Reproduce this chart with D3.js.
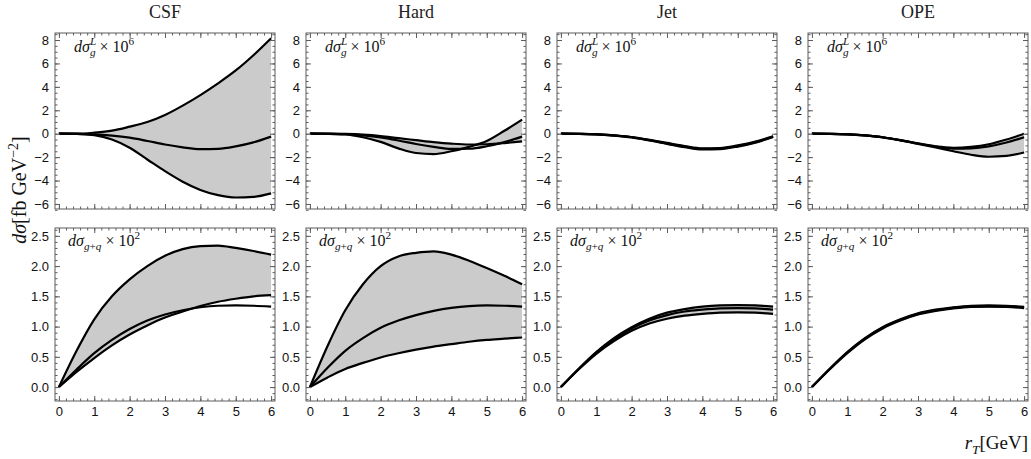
<!DOCTYPE html>
<html>
<head>
<meta charset="utf-8">
<script src="https://cdn.jsdelivr.net/npm/d3@7"></script>
<style>
  body { margin: 0; background: #fff; }
</style>
</head>
<body>
<svg id="chart"></svg>
<script>
// r_T grid the curves are read at
const rT = [0, 0.5, 1, 1.5, 2, 2.5, 3, 3.5, 4, 4.5, 5, 5.5, 6]

const columns = ["CSF", "Hard", "Jet", "OPE"]

// top row: dσ_g^L × 10^6  (band edges hi / lo, plus the central curve)
const csfL_hi = [0, 0, 0.09, 0.26, 0.6, 1.0, 1.6, 2.4, 3.3, 4.3, 5.4, 6.7, 8.15]
const csfL_mid = [0, -0.01, -0.05, -0.16, -0.34, -0.62, -0.92, -1.16, -1.32, -1.29, -1.08, -0.74, -0.25]
const csfL_lo = [0, -0.01, -0.12, -0.5, -1.2, -2.2, -3.2, -4.1, -4.8, -5.25, -5.45, -5.4, -5.1]

const hardL_hi = [0, 0, -0.02, -0.08, -0.2, -0.38, -0.55, -0.72, -0.85, -0.92, -0.9, -0.8, -0.65]
const hardL_mid = [0, -0.01, -0.04, -0.15, -0.32, -0.58, -0.88, -1.12, -1.3, -1.28, -1.07, -0.72, -0.25]
const hardL_lo = [0, -0.01, -0.06, -0.3, -0.7, -1.25, -1.65, -1.74, -1.5, -1.12, -0.62, 0.25, 1.2]

const jetL_hi = [0, -0.01, -0.04, -0.14, -0.28, -0.52, -0.79, -1.05, -1.24, -1.22, -1.0, -0.68, -0.22]
const jetL_mid = [0, -0.01, -0.05, -0.15, -0.3, -0.55, -0.83, -1.1, -1.3, -1.27, -1.05, -0.72, -0.25]
const jetL_lo = [0, -0.01, -0.05, -0.16, -0.32, -0.58, -0.87, -1.15, -1.35, -1.32, -1.1, -0.76, -0.28]

const opeL_hi = [0, -0.01, -0.04, -0.14, -0.3, -0.55, -0.83, -1.08, -1.2, -1.12, -0.9, -0.5, 0.0]
const opeL_mid = [0, -0.01, -0.05, -0.15, -0.3, -0.55, -0.84, -1.1, -1.28, -1.25, -1.08, -0.75, -0.3]
const opeL_lo = [0, -0.01, -0.05, -0.15, -0.31, -0.57, -0.87, -1.18, -1.5, -1.8, -1.97, -1.9, -1.6]

// bottom row: dσ_{g+q} × 10^2
const csfGQ_hi = [0, 0.6, 1.12, 1.5, 1.78, 2.0, 2.17, 2.28, 2.33, 2.34, 2.3, 2.25, 2.19]
const csfGQ_mid = [0, 0.29, 0.56, 0.78, 0.96, 1.1, 1.2, 1.27, 1.32, 1.345, 1.35, 1.345, 1.33]
const csfGQ_lo = [0, 0.25, 0.48, 0.69, 0.87, 1.02, 1.15, 1.25, 1.34, 1.41, 1.46, 1.5, 1.52]

const hardGQ_hi = [0, 0.68, 1.27, 1.7, 2.0, 2.16, 2.22, 2.245, 2.19, 2.09, 1.97, 1.84, 1.7]
const hardGQ_mid = [0, 0.32, 0.6, 0.81, 0.98, 1.1, 1.19, 1.26, 1.31, 1.34, 1.35, 1.345, 1.33]
const hardGQ_lo = [0, 0.16, 0.3, 0.4, 0.49, 0.56, 0.62, 0.67, 0.71, 0.75, 0.78, 0.8, 0.82]

const jetGQ_hi = [0, 0.3, 0.58, 0.81, 0.99, 1.13, 1.23, 1.29, 1.33, 1.35, 1.355, 1.35, 1.33]
const jetGQ_mid = [0, 0.3, 0.57, 0.79, 0.97, 1.1, 1.19, 1.25, 1.28, 1.3, 1.305, 1.3, 1.28]
const jetGQ_lo = [0, 0.29, 0.55, 0.76, 0.93, 1.05, 1.13, 1.18, 1.21, 1.23, 1.235, 1.23, 1.21]

const opeGQ_hi = [0, 0.3, 0.58, 0.81, 0.99, 1.12, 1.22, 1.28, 1.32, 1.345, 1.35, 1.345, 1.325]
const opeGQ_mid = [0, 0.3, 0.57, 0.8, 0.98, 1.11, 1.21, 1.27, 1.31, 1.335, 1.34, 1.335, 1.315]
const opeGQ_lo = [0, 0.29, 0.56, 0.79, 0.97, 1.1, 1.2, 1.26, 1.3, 1.325, 1.33, 1.325, 1.305]

// tick labels
const xTicks = [0, 1, 2, 3, 4, 5, 6]
const yTicksL = [-6, -4, -2, 0, 2, 4, 6, 8]
const yTicksGQ = [0, 0.5, 1, 1.5, 2, 2.5]

const topRow = [
  [csfL_hi, csfL_mid, csfL_lo],
  [hardL_hi, hardL_mid, hardL_lo],
  [jetL_hi, jetL_mid, jetL_lo],
  [opeL_hi, opeL_mid, opeL_lo]
]
const bottomRow = [
  [csfGQ_hi, csfGQ_mid, csfGQ_lo],
  [hardGQ_hi, hardGQ_mid, hardGQ_lo],
  [jetGQ_hi, jetGQ_mid, jetGQ_lo],
  [opeGQ_hi, opeGQ_mid, opeGQ_lo]
]

const SERIF = "'Liberation Serif', 'Times New Roman', serif"
const SANS = "'Liberation Sans', Arial, sans-serif"
const FRAME = "#5c5c5c"
const FILL = "#cbcbcb"

const svg = d3.select("#chart")
  .attr("width", 1031)
  .attr("height", 459)

const panelLeft = [55, 306, 557, 808]
const panelWidth = 220

const rows = [
  {
    data: topRow, top: 33, bottom: 209, domain: [-6.43, 8.6],
    major: yTicksL, minor: d3.range(-6.5, 8.51, 0.5), fmt: d3.format("d"),
    label: [{ t: "d", it: 1 }, { t: "σ", it: 1 }, { t: "L", pos: "sup", it: 1 }, { t: "g", pos: "sub", it: 1, back: 1 }, { t: " × 10" }, { t: "6", pos: "sup" }],
    labelPos: [74, 52], xLabels: false
  },
  {
    data: bottomRow, top: 228, bottom: 401, domain: [-0.23, 2.63],
    major: yTicksGQ, minor: d3.range(-0.2, 2.61, 0.1), fmt: d3.format(".1f"),
    label: [{ t: "d", it: 1 }, { t: "σ", it: 1 }, { t: "g", pos: "sub", it: 1 }, { t: "+", pos: "sub" }, { t: "q", pos: "sub", it: 1 }, { t: " × 10" }, { t: "2", pos: "sup" }],
    labelPos: [68, 246], xLabels: true
  }
]

const xMinor = d3.range(0, 6.01, 0.2)

rows.forEach((row, r) => {
  columns.forEach((name, c) => {
    const left = panelLeft[c]
    const x = d3.scaleLinear().domain([-0.11, 6.11]).range([left, left + panelWidth])
    const y = d3.scaleLinear().domain(row.domain).range([row.bottom, row.top])
    renderPanel(row, row.data[c], x, y, `clip-${r}-${c}`)
  })
})

function renderPanel(row, curves, x, y, clipId) {
  const [x0, x1] = x.range()
  const g = svg.append("g")

  g.append("clipPath").attr("id", clipId)
    .append("rect")
    .attr("x", x0).attr("y", row.top)
    .attr("width", x1 - x0).attr("height", row.bottom - row.top)

  const plot = g.append("g").attr("clip-path", `url(#${clipId})`)
  const [hi, mid, lo] = curves

  // band between the two scale variations
  plot.append("path")
    .datum(rT)
    .attr("fill", FILL)
    .attr("d", d3.area()
      .x(d => x(d))
      .y0((d, i) => y(lo[i]))
      .y1((d, i) => y(hi[i]))
      .curve(d3.curveMonotoneX))

  const line = vals => d3.line()
    .x(d => x(d))
    .y((d, i) => y(vals[i]))
    .curve(d3.curveMonotoneX)(rT)

  plot.selectAll(".curve")
    .data([hi, lo, mid])
    .join("path")
    .attr("fill", "none")
    .attr("stroke", "#000")
    .attr("stroke-width", 2.2)
    .attr("stroke-linejoin", "round")
    .attr("d", d => line(d))

  renderFrame(g, row, x, y)

  richText(g, row.labelPos[0] + (x0 - 55), row.labelPos[1], row.label, 16, "start")
}

function renderFrame(g, row, x, y) {
  const [x0, x1] = x.range()
  const styleAxis = sel => {
    sel.select(".domain").remove()
    sel.selectAll(".tick line").attr("stroke", FRAME)
    sel.selectAll(".tick text")
      .attr("font-family", SANS)
      .attr("font-size", 13)
      .attr("fill", "#111")
  }

  // left (labelled) and right
  g.append("g").attr("transform", `translate(${x0},0)`)
    .call(d3.axisLeft(y).tickValues(row.minor).tickSize(-2.5).tickFormat(""))
    .call(styleAxis)
  g.append("g").attr("transform", `translate(${x0},0)`)
    .call(d3.axisLeft(y).tickValues(row.major).tickSize(-5).tickPadding(6).tickFormat(row.fmt))
    .call(styleAxis)
  g.append("g").attr("transform", `translate(${x1},0)`)
    .call(d3.axisRight(y).tickValues(row.minor).tickSize(-2.5).tickFormat(""))
    .call(styleAxis)
  g.append("g").attr("transform", `translate(${x1},0)`)
    .call(d3.axisRight(y).tickValues(row.major).tickSize(-5).tickFormat(""))
    .call(styleAxis)

  // bottom and top
  g.append("g").attr("transform", `translate(0,${row.bottom})`)
    .call(d3.axisBottom(x).tickValues(xMinor).tickSize(-2.5).tickFormat(""))
    .call(styleAxis)
  g.append("g").attr("transform", `translate(0,${row.bottom})`)
    .call(d3.axisBottom(x).tickValues(xTicks).tickSize(-5).tickPadding(6)
      .tickFormat(row.xLabels ? d3.format("d") : ""))
    .call(styleAxis)
  g.append("g").attr("transform", `translate(0,${row.top})`)
    .call(d3.axisTop(x).tickValues(xMinor).tickSize(-2.5).tickFormat(""))
    .call(styleAxis)
  g.append("g").attr("transform", `translate(0,${row.top})`)
    .call(d3.axisTop(x).tickValues(xTicks).tickSize(-5).tickFormat(""))
    .call(styleAxis)

  g.append("rect")
    .attr("x", x0).attr("y", row.top)
    .attr("width", x1 - x0).attr("height", row.bottom - row.top)
    .attr("fill", "none")
    .attr("stroke", FRAME)
    .attr("stroke-width", 1)
}

// text with italic parts, sub- and superscripts
function richText(parent, x, y, parts, size, anchor, transform) {
  const text = parent.append("text")
    .attr("x", x).attr("y", y)
    .attr("font-family", SERIF)
    .attr("font-size", size)
    .attr("font-weight", 400)
    .attr("text-anchor", anchor)
    .attr("fill", "#111")
  if (transform) text.attr("transform", transform)

  let shift = 0
  let lastWidth = 0
  parts.forEach(p => {
    const target = p.pos === "sup" ? -size * 0.42 : p.pos === "sub" ? size * 0.28 : 0
    const ts = text.append("tspan")
      .text(p.t)
      .attr("font-size", p.pos ? size * 0.7 : size)
      .attr("dy", target - shift)
    if (p.it) ts.attr("font-style", "italic")
    if (p.back) ts.attr("dx", -lastWidth)
    shift = target
    lastWidth = ts.node().getComputedTextLength()
  })
  return text
}

// column titles
columns.forEach((name, c) => {
  svg.append("text")
    .attr("x", panelLeft[c] + panelWidth / 2)
    .attr("y", 18)
    .attr("text-anchor", "middle")
    .attr("font-family", SERIF)
    .attr("font-size", 18)
    .attr("font-weight", 400)
    .attr("fill", "#222")
    .text(name)
})

// axis titles
richText(svg, 0, 0, [
  { t: "d", it: 1 }, { t: "σ", it: 1 }, { t: "[fb  GeV" }, { t: "−2", pos: "sup" }, { t: "]" }
], 20, "middle", "translate(26,190) rotate(-90)")

richText(svg, 1028, 449, [
  { t: "r", it: 1 }, { t: "T", pos: "sub", it: 1 }, { t: "[GeV]" }
], 19, "end")
</script>
</body>
</html>
